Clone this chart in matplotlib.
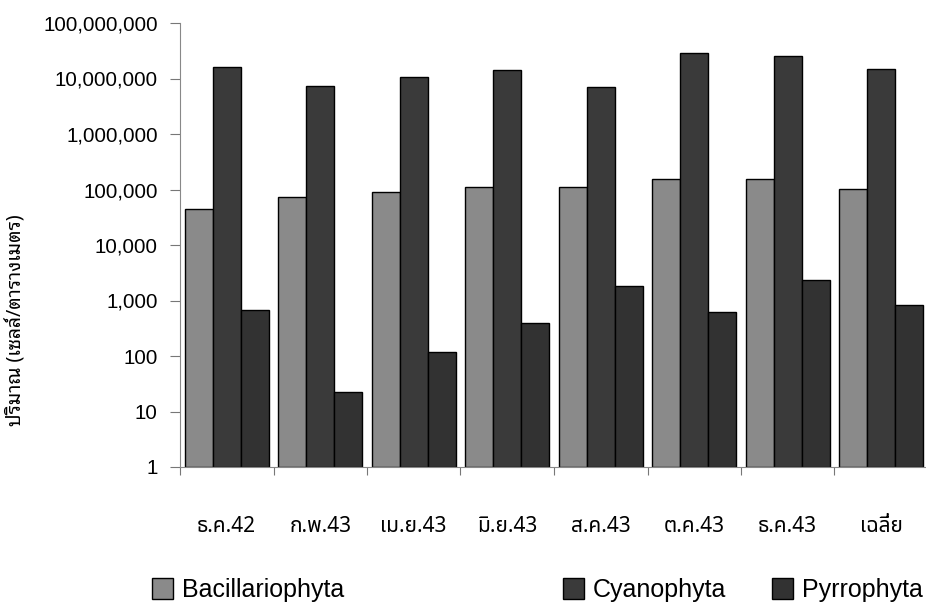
import matplotlib
matplotlib.use("Agg")
import matplotlib.pyplot as plt
from matplotlib import font_manager
import matplotlib.ticker as mticker
import numpy as np

months = ["ธ.ค.42", "ก.พ.43", "เม.ย.43", "มิ.ย.43", "ส.ค.43", "ต.ค.43", "ธ.ค.43", "เฉลี่ย"]
bacillariophyta = [45000, 74000, 90000, 112000, 112000, 155000, 155000, 101000]
cyanophyta = [16000000, 7200000, 10500000, 14500000, 6900000, 29000000, 25500000, 15000000]
pyrrophyta = [670, 21, 115, 400, 1820, 620, 2350, 840]
series_names = ["Bacillariophyta", "Cyanophyta", "Pyrrophyta"]
y_ticks = [1, 10, 100, 1000, 10000, 100000, 1000000, 10000000, 100000000]

installed = {f.name for f in font_manager.fontManager.ttflist}

def pick(names, default="DejaVu Sans"):
    for n in names:
        if n in installed:
            return n
    return default

thai_font = pick(["Noto Sans Thai", "Noto Sans Thai UI", "Anuphan", "Kanit", "Prompt", "Bai Jamjuree"])
thai_looped = pick(["Noto Sans Thai Looped", "Sarabun", "Noto Serif Thai", thai_font], thai_font)
latin = pick(["Liberation Sans", "Arimo", "DejaVu Sans"])

plt.rcParams["font.family"] = [latin, thai_font, "DejaVu Sans"]

fig = plt.figure(figsize=(9.26, 6.1), dpi=100)
ax = fig.add_axes([180 / 926, 143 / 610, 748 / 926, 444 / 610])

x = np.arange(len(months)) + 0.5
w = 0.3
b1 = ax.bar(x - w, bacillariophyta, w, bottom=1, color="#8a8a8a", edgecolor="black", linewidth=1)
b2 = ax.bar(x, cyanophyta, w, bottom=1, color="#3a3a3a", edgecolor="black", linewidth=1)
b3 = ax.bar(x + w, pyrrophyta, w, bottom=1, color="#323232", edgecolor="black", linewidth=1)

ax.set_yscale("log")
ax.set_ylim(1, 1e8)
ax.set_xlim(0, len(months))
ax.set_yticks(y_ticks)
ax.yaxis.set_major_formatter(mticker.FuncFormatter(lambda v, p: f"{int(round(v)):,}"))
ax.yaxis.set_minor_locator(mticker.NullLocator())
ax.tick_params(axis="y", length=7, width=0.8, color="#777777", pad=9, labelsize=14.8)

# category boundaries get the tick marks, centers get the labels
ax.set_xticks(np.arange(len(months) + 1))
ax.set_xticklabels([])
ax.set_xticks(x, minor=True)
ax.set_xticklabels(months, minor=True, family=[thai_font, latin], fontsize=15)
ax.tick_params(axis="x", which="major", length=6, width=0.8, color="#777777")
ax.tick_params(axis="x", which="minor", length=0, pad=35)

for s in ["top", "right"]:
    ax.spines[s].set_visible(False)
for s in ["left", "bottom"]:
    ax.spines[s].set_color("#888888")
    ax.spines[s].set_linewidth(0.8)

ax.set_ylabel("ปริมาณ (เซลล์/ตารางเมตร)", family=[thai_looped, latin], fontsize=14)
ax.yaxis.set_label_coords(-153 / 748, 0.33)

legend_x = [152, 563, 772]
for bars, name, lx in zip([b1, b2, b3], series_names, legend_x):
    fig.legend([bars], [name], loc="center left", bbox_to_anchor=(lx / 926, 1 - 590 / 610),
               frameon=False, borderpad=0, borderaxespad=0, handlelength=0.85, handleheight=0.9,
               handletextpad=0.35, prop={"family": latin, "size": 18})

fig.savefig("out.png", dpi=100, facecolor="white")
